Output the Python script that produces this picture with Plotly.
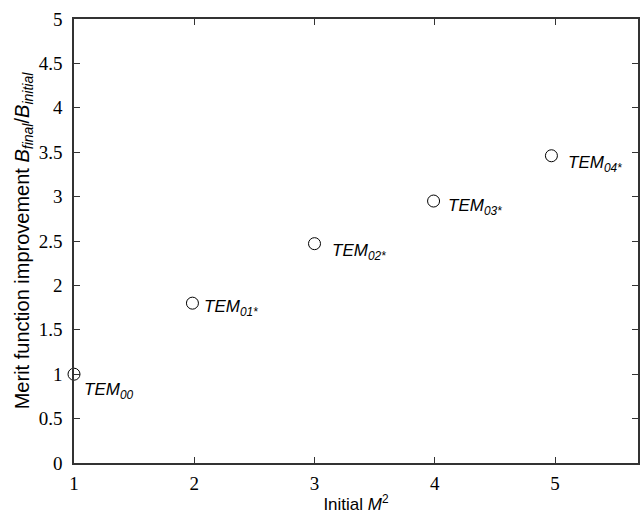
import plotly.graph_objects as go

m2_initial = [1.0, 1.985, 3.0, 3.99, 4.97]
improvement = [1.0, 1.80, 2.47, 2.95, 3.46]
mode_labels = ["TEM<sub>00</sub>", "TEM<sub>01*</sub>", "TEM<sub>02*</sub>",
               "TEM<sub>03*</sub>", "TEM<sub>04*</sub>"]
label_offsets = [(8, -17), (10, -5), (15, -8), (12, -6), (15, -8)]
x_ticks = [1, 2, 3, 4, 5]
y_ticks = [0, 0.5, 1, 1.5, 2, 2.5, 3, 3.5, 4, 4.5, 5]
y_tick_text = ["0", "0.5", "1", "1.5", "2", "2.5", "3", "3.5", "4", "4.5", "5"]

fig = go.Figure()
fig.add_trace(go.Scatter(
    x=m2_initial, y=improvement, mode="markers",
    marker=dict(symbol="circle-open", size=12, color="black", line=dict(width=1)),
    showlegend=False, cliponaxis=False,
))

for x, y, t, (dx, dy) in zip(m2_initial, improvement, mode_labels, label_offsets):
    fig.add_annotation(x=x, y=y, text="<i>" + t + "</i>", showarrow=False,
                       xanchor="left", yanchor="middle", xshift=dx, yshift=dy,
                       font=dict(family="Liberation Sans", size=17, color="black"))

serif = "Liberation Serif"
axis_common = dict(
    showline=True, linecolor="#333", linewidth=1.5, mirror="ticks",
    ticks="inside", ticklen=6, tickcolor="#333", tickwidth=1,
    showgrid=False, zeroline=False,
)

fig.update_xaxes(range=[1, 5.69], tickvals=x_ticks,
                 tickfont=dict(family=serif, size=19, color="black"),
                 title=dict(text="Initial <i>M</i><sup>2</sup>", standoff=6,
                            font=dict(family="Liberation Sans", size=17, color="black")),
                 ticklabelstandoff=2, **axis_common)
fig.update_yaxes(range=[0, 5], tickvals=y_ticks, ticktext=y_tick_text,
                 tickfont=dict(family=serif, size=19, color="black"),
                 title=dict(text="Merit function improvement <i>B</i><sub><i>final</i></sub>/<i>B</i><sub><i>initial</i></sub>",
                            standoff=4,
                            font=dict(family="Liberation Sans", size=20, color="black")),
                 ticklabelstandoff=6, **axis_common)

fig.update_layout(
    width=642, height=515,
    margin=dict(l=74, r=2, t=19, b=52),
    paper_bgcolor="white", plot_bgcolor="white",
)

fig.write_html("out.html")
